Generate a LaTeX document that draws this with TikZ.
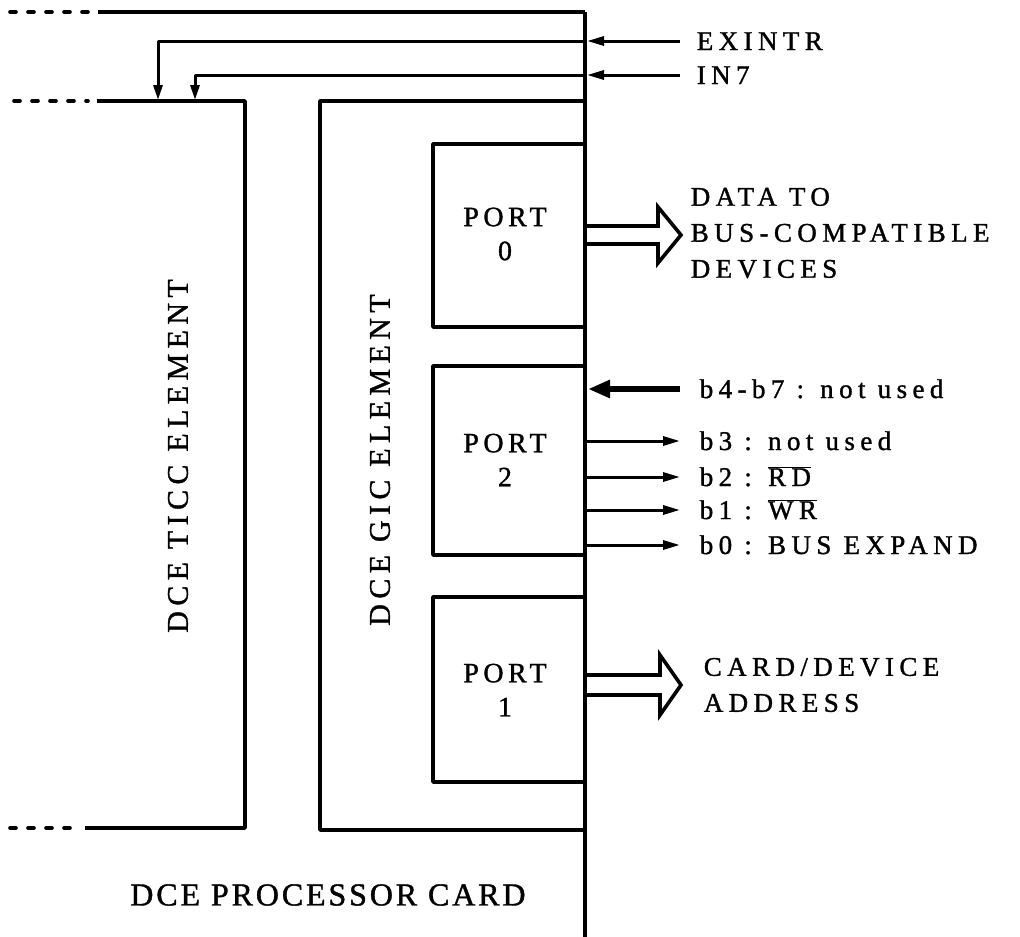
\documentclass[tikz,border=0pt]{standalone}
\usepackage{fontspec}
\setmainfont{Liberation Serif}
\newfontfamily\labfont[LetterSpace=20,FakeBold=1.2]{Liberation Serif}
\newfontfamily\portfont[LetterSpace=16,FakeBold=1.2]{Liberation Serif}
\newfontfamily\bigfont[LetterSpace=18,FakeBold=1.2]{Liberation Serif}
\newfontfamily\titlefont[LetterSpace=9,FakeBold=1.2]{Liberation Serif}
\usetikzlibrary{arrows.meta}
\begin{document}
\begin{tikzpicture}[x=1pt,y=-1pt,line width=3.6pt,line join=round,
  dashpat/.style={line cap=round,dash pattern=on 6pt off 12pt},
  lab/.style={anchor=base west,inner sep=0pt,font=\labfont\fontsize{27}{36}\selectfont,align=left},
  blocklab/.style={anchor=west,inner sep=0pt,font=\labfont\fontsize{27}{36}\selectfont,align=left},
  elem/.style={font=\bigfont\fontsize{30}{34}\selectfont,rotate=90,inner sep=0pt},
  porttxt/.style={font=\portfont\fontsize{28}{34}\selectfont,align=center,inner sep=0pt},
  sig/.style={line width=3pt,-{Triangle[length=17pt,width=9pt]}},
  hollow/.style={line width=3.6pt,line join=miter}]
\useasboundingbox (0,0) rectangle (1020,937);
% main bus line of the card
\coordinate (busT) at (585,12);
\coordinate (busB) at (585,937);
\draw (busT) -- (busB);
\draw (98,12) -- (busT);
\draw[dashpat] (10,12) -- (88,12);
% TICC element
\draw[dashpat] (14,101) -- (88,101);
\draw (97,101) -- (245,101) -- (245,828) -- (85,828);
\draw[dashpat] (10,828) -- (76,828);
\node[elem] (ticc) at (178,456) {DCE TICC ELEMENT};
% GIC element
\draw (585,101) -- (320,101) -- (320,830) -- (585,830);
\node[elem] (gic) at (380,460) {DCE GIC ELEMENT};
% ports
\draw (585,144) -- (433,144) -- (433,327) -- (585,327);
\draw (585,366) -- (433,366) -- (433,555) -- (585,555);
\draw (585,597) -- (433,597) -- (433,782) -- (585,782);
\node[porttxt] (p0) at (505,234) {PORT\\0};
\node[porttxt] (p2) at (505,460) {PORT\\2};
\node[porttxt] (p1) at (505,690) {PORT\\1};
% interrupt inputs
\coordinate (exR) at (680,41);
\coordinate (exB) at (585,41);
\coordinate (exC) at (158,41);
\coordinate (exT) at (158,100);
\coordinate (inR) at (680,75);
\coordinate (inB) at (585,75);
\coordinate (inC) at (195,75);
\coordinate (inT) at (195,100);
\draw[sig] (exR) -- ([xshift=2pt]exB);
\draw[sig] (inR) -- ([xshift=2pt]inB);
\draw[line width=3pt,-{Triangle[length=15pt,width=9pt]}] (exB) -- (exC) -- (exT);
\draw[line width=3pt,-{Triangle[length=15pt,width=9pt]}] (inB) -- (inC) -- (inT);
\node[lab] (exintr) at (695,50) {EXINTR};
\node[lab] (in7) at (695,84) {IN7};
% port 0 data bus
\draw[hollow] (585,226) -- (658,226) -- (658,207) -- (681,235) -- (658,263) -- (658,244) -- (585,244);
\node[blocklab] (data) at (689,233) {DATA TO\\BUS-COMPATIBLE\\DEVICES};
% port 2 bits
\coordinate (b7R) at (680,389);
\coordinate (b7B) at (588,389);
\draw[line width=6pt,-{Triangle[length=22pt,width=17pt]}] (b7R) -- (b7B);
\node[lab] (b7) at (698,398) {b4-b7 : not used};
\coordinate (b3L) at (585,441);
\coordinate (b3R) at (680,441);
\coordinate (b2L) at (585,477);
\coordinate (b2R) at (680,477);
\coordinate (b1L) at (585,510);
\coordinate (b1R) at (680,510);
\coordinate (b0L) at (585,545);
\coordinate (b0R) at (680,545);
\draw[sig] (b3L) -- (b3R);
\draw[sig] (b2L) -- (b2R);
\draw[sig] (b1L) -- (b1R);
\draw[sig] (b0L) -- (b0R);
\node[lab] (b3) at (698,450) {b3 : not used};
\node[lab] (b2) at (698,486) {b2 : $\overline{\hbox{RD}}$};
\node[lab] (b1) at (698,519) {b1 : $\overline{\hbox{WR}}$};
\node[lab] (b0) at (698,554) {b0 : BUS EXPAND};
% port 1 address bus
\draw[hollow] (585,675) -- (660,675) -- (660,655) -- (681,685) -- (660,715) -- (660,695) -- (585,695);
\node[blocklab] (addr) at (702,685) {CARD/DEVICE\\ADDRESS};
% card title
\node[font=\titlefont\fontsize{32}{34}\selectfont,inner sep=0pt] (card) at (328,895) {DCE PROCESSOR CARD};
\end{tikzpicture}
\end{document}
